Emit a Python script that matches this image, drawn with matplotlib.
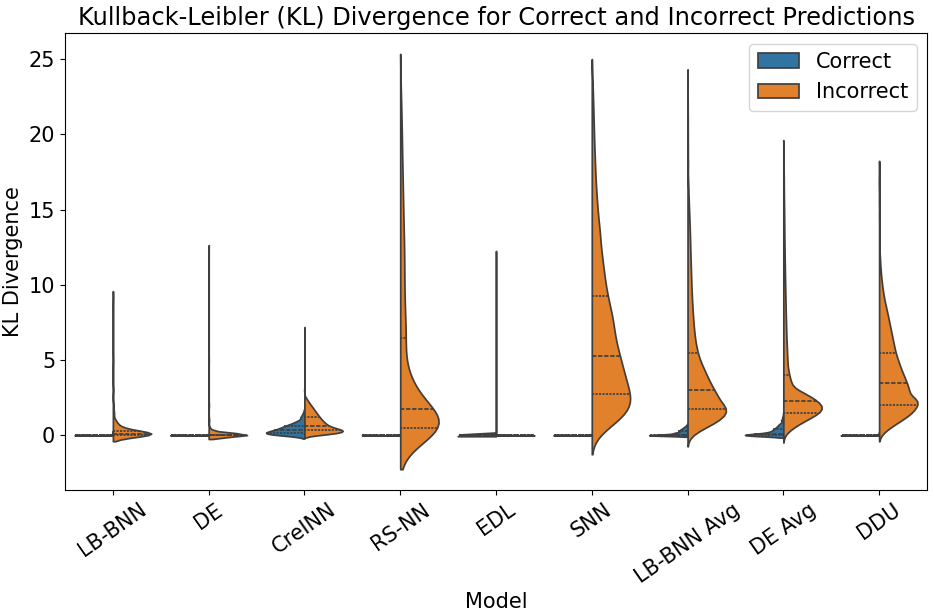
import numpy as np
import pandas as pd
import matplotlib
matplotlib.use('Agg')
import matplotlib.pyplot as plt
import seaborn as sns

models = ['LB-BNN', 'DE', 'CreINN', 'RS-NN', 'EDL', 'SNN', 'LB-BNN Avg', 'DE Avg', 'DDU']
classes = ['Correct', 'Incorrect']

# KL divergence values (binned) and number of test samples per bin
lbbnn_cor_kl = [0.0, 0.02, 0.05, 0.1, 0.3]
lbbnn_cor_n = [4500, 350, 100, 40, 10]
lbbnn_inc_kl = [0.0, 0.05, 0.1, 0.2, 0.3, 0.5, 0.75, 1.0, 1.5, 2.0, 3.0, 5.0, 9.2]
lbbnn_inc_n = [80, 60, 80, 60, 40, 32, 20, 12, 8, 4, 2, 1, 1]

de_cor_kl = [0.0, 0.01, 0.03, 0.1]
de_cor_n = [4500, 400, 80, 20]
de_inc_kl = [0.0, 0.02, 0.05, 0.1, 0.2, 0.3, 0.5, 1.0, 2.0, 5.0, 12.4]
de_inc_n = [300, 250, 200, 120, 60, 30, 20, 10, 5, 2, 1]

creinn_cor_kl = [0.0, 0.05, 0.1, 0.15, 0.2, 0.25, 0.3, 0.35, 0.4, 0.5, 0.6, 0.7, 0.8, 0.9, 1.0,
                 1.2, 1.4, 1.6, 3.0]
creinn_cor_n = [27, 32, 34, 34, 31, 27, 24, 22, 31, 38, 32, 25, 18, 14, 10, 13, 6, 3, 1]
creinn_inc_kl = [0.05, 0.15, 0.25, 0.35, 0.45, 0.55, 0.65, 0.75, 0.85, 0.95, 1.05, 1.15, 1.25,
                 1.35, 1.45, 1.55, 1.65, 1.75, 1.85, 1.95, 2.05, 2.15, 2.25, 2.35, 2.45, 2.55,
                 3.0, 4.0, 5.5, 7.0]
creinn_inc_n = [500, 800, 950, 900, 750, 625, 550, 500, 463, 425, 400, 363, 338, 313, 288, 263,
                238, 213, 188, 163, 138, 113, 88, 68, 45, 25, 8, 4, 2, 1]

rsnn_cor_kl = [0.0, 0.02, 0.05, 0.1]
rsnn_cor_n = [3000, 300, 60, 10]
rsnn_inc_kl = [0.1, 0.3, 0.5, 0.75, 1.0, 1.25, 1.5, 1.75, 2.0, 2.5, 3.0, 3.5, 4.0, 5.0, 6.0, 6.5,
               7.0, 8.0, 9.0, 10.0, 11.0, 12.0, 13.0, 14.0, 15.0, 16.0, 17.0, 18.0, 19.0, 20.0,
               21.0, 22.0, 23.0]
rsnn_inc_n = [170, 190, 170, 160, 140, 110, 75, 65, 70, 110, 80, 55, 50, 50, 30, 35, 40, 50, 40,
              40, 40, 40, 36, 32, 30, 26, 24, 20, 18, 16, 12, 10, 6]

edl_cor_kl = [0.0, 0.02, 0.05, 0.1, 12.2]
edl_cor_n = [5000, 400, 100, 20, 1]
edl_inc_kl = [0.0, 0.02, 0.05, 0.1]
edl_inc_n = [2000, 300, 80, 20]

snn_cor_kl = [0.0, 0.02, 0.05, 0.1]
snn_cor_n = [3000, 300, 60, 10]
snn_inc_kl = [0.25, 0.75, 1.25, 1.75, 2.25, 2.75, 3.25, 3.75, 4.25, 4.75, 5.25, 5.75, 6.25, 6.75,
              7.25, 7.75, 8.25, 8.75, 9.25, 9.75, 10.25, 10.75, 11.25, 11.75, 12.25, 12.75,
              13.5, 14.5, 15.5, 16.5, 17.5, 18.5, 19.5, 20.5, 21.5, 22.5, 23.5]
snn_inc_n = [160, 350, 545, 640, 670, 610, 575, 545, 510, 480, 450, 415, 385, 350,
             360, 340, 310, 280, 250, 230, 210, 200, 180, 170, 155, 145,
             250, 205, 165, 135, 110, 95, 75, 65, 50, 40, 22]

lbavg_cor_kl = [0.0, 0.05, 0.1, 0.15, 0.2, 0.3, 0.4, 0.5, 0.6, 0.7]
lbavg_cor_n = [450, 100, 90, 85, 80, 110, 80, 55, 30, 12]
lbavg_inc_kl = [0.1, 0.3, 0.5, 0.75, 1.0, 1.25, 1.5, 1.75, 2.0, 2.5, 3.0, 3.5, 4.0, 4.5,
                5.0, 5.5, 6.0, 6.5, 7.0, 7.5, 8.0, 8.5, 9.0, 9.5, 10.0, 10.5, 11.0, 11.5,
                12.0, 12.5, 13.0, 13.5, 14.0, 14.5, 15.0, 15.5, 16.0, 16.5, 17.0,
                18.0, 19.0, 20.0, 21.0, 22.0, 23.5]
lbavg_inc_n = [272, 680, 1290, 2210, 2805, 3145, 3315, 3230, 4590, 5270, 4420, 3740, 3145, 2635,
               1990, 1690, 1375, 1215, 1070, 970, 885, 805, 735, 680, 628, 590, 550, 513,
               475, 443, 414, 376, 338, 292, 245, 198, 153, 122, 92,
               120, 90, 77, 63, 45, 32]

deavg_cor_kl = [0.0, 0.05, 0.1, 0.15, 0.2, 0.3, 0.4, 0.5, 0.6, 0.7, 0.8, 1.0, 1.2, 1.4]
deavg_cor_n = [300, 70, 65, 60, 55, 70, 55, 45, 35, 28, 20, 22, 10, 3]
deavg_inc_kl = [0.15, 0.3, 0.5, 0.75, 1.0, 1.25, 1.5, 1.75, 2.0, 2.25, 2.5, 2.75, 3.0, 3.5, 4.0,
                4.5, 5.0, 5.5, 6.0, 6.5, 7.0, 7.5, 8.0, 8.5, 9.0, 9.5, 10.0, 10.5, 11.0, 11.5,
                12.0, 12.5, 13.0, 13.5, 14.0, 14.5, 15.0, 15.5, 16.0, 16.5, 17.0, 17.5, 18.0,
                18.5, 19.0]
deavg_inc_n = [440, 1466, 2932, 5570, 7770, 10260, 13190, 14290, 13930, 12090, 10260, 8060, 5860,
               5570, 4100, 3080, 2790, 2570, 2350, 2130, 1980, 1830, 1700, 1575, 1475, 1360,
               1250, 1155, 1065, 970, 880, 805, 735, 680, 625, 570, 515, 440, 365, 330, 295,
               240, 185, 155, 125]

ddu_cor_kl = [0.0, 0.02, 0.05, 0.1, 0.2]
ddu_cor_n = [3000, 300, 100, 40, 10]
ddu_inc_kl = [0.25, 0.5, 0.75, 1.0, 1.25, 1.5, 1.75, 2.0, 2.25, 2.5, 3.0, 3.5, 4.0, 4.5, 5.0, 5.5,
              6.0, 6.5, 7.0, 7.5, 8.0, 8.5, 9.0, 9.5, 10.0, 10.5, 11.0, 11.5, 12.0, 13.0, 14.0,
              15.0, 16.0, 17.6]
ddu_inc_n = [275, 460, 730, 1005, 1280, 1510, 1650, 1740, 1690, 2330, 2745, 2470, 2195, 1920,
             1690, 1465, 1325, 1190, 1050, 915, 775, 625, 475, 360, 270, 190, 135, 90, 62, 75,
             55, 35, 25, 18]

groups = [
    ('LB-BNN', 'Correct', lbbnn_cor_kl, lbbnn_cor_n), ('LB-BNN', 'Incorrect', lbbnn_inc_kl, lbbnn_inc_n),
    ('DE', 'Correct', de_cor_kl, de_cor_n), ('DE', 'Incorrect', de_inc_kl, de_inc_n),
    ('CreINN', 'Correct', creinn_cor_kl, creinn_cor_n), ('CreINN', 'Incorrect', creinn_inc_kl, creinn_inc_n),
    ('RS-NN', 'Correct', rsnn_cor_kl, rsnn_cor_n), ('RS-NN', 'Incorrect', rsnn_inc_kl, rsnn_inc_n),
    ('EDL', 'Correct', edl_cor_kl, edl_cor_n), ('EDL', 'Incorrect', edl_inc_kl, edl_inc_n),
    ('SNN', 'Correct', snn_cor_kl, snn_cor_n), ('SNN', 'Incorrect', snn_inc_kl, snn_inc_n),
    ('LB-BNN Avg', 'Correct', lbavg_cor_kl, lbavg_cor_n), ('LB-BNN Avg', 'Incorrect', lbavg_inc_kl, lbavg_inc_n),
    ('DE Avg', 'Correct', deavg_cor_kl, deavg_cor_n), ('DE Avg', 'Incorrect', deavg_inc_kl, deavg_inc_n),
    ('DDU', 'Correct', ddu_cor_kl, ddu_cor_n), ('DDU', 'Incorrect', ddu_inc_kl, ddu_inc_n),
]

frames = []
for model, pred, kl, n in groups:
    vals = np.repeat(np.array(kl, dtype=float), n)
    frames.append(pd.DataFrame({'Model': model, 'Prediction': pred, 'KL Divergence': vals}))
df = pd.concat(frames, ignore_index=True)

plt.rcParams['font.size'] = 15

fig, ax = plt.subplots(figsize=(9.34, 6.14), dpi=100)
fig.subplots_adjust(left=0.0696, right=0.9925, top=0.946, bottom=0.202)

sns.violinplot(data=df, x='Model', y='KL Divergence', hue='Prediction',
               order=models, hue_order=classes, split=True, inner='quart',
               density_norm='width', ax=ax)

ax.set_title('Kullback-Leibler (KL) Divergence for Correct and Incorrect Predictions', fontsize=17.4)
ax.set_xlabel('Model', fontsize=15)
ax.set_ylabel('KL Divergence', fontsize=15)
ax.tick_params(axis='x', labelrotation=35)
sns.move_legend(ax, 'upper right', title=None, fontsize=15)

fig.savefig('out.png', dpi=100)
